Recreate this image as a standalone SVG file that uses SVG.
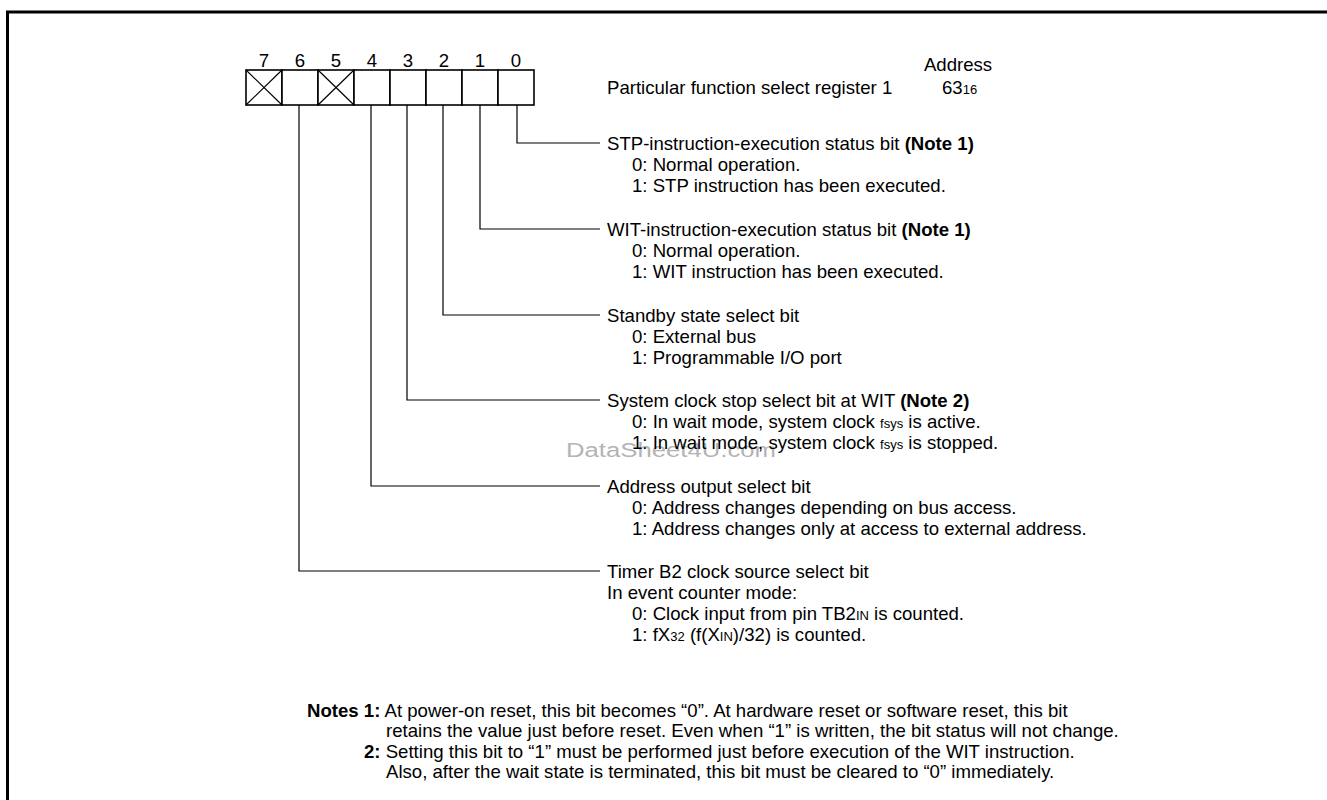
<svg xmlns="http://www.w3.org/2000/svg" width="1327" height="800" viewBox="0 0 1327 800">
<style>
text{font-family:"Liberation Sans",Arial,sans-serif;font-size:18.6px;fill:#000}
.b{font-weight:bold}
.s{font-size:13px}
.n{text-anchor:middle}
.ln{stroke:#000;stroke-width:1.2;fill:none}
.cell{stroke:#000;stroke-width:1.6;fill:#fff}
.wm{fill:#b4b4b4;font-size:20px}
</style>
<rect x="0" y="0" width="1327" height="800" fill="#fff"/>
<rect x="7.5" y="12" width="1340" height="820" fill="none" stroke="#000" stroke-width="3"/>
<g id="register">
<text class="n" x="264" y="67">7</text>
<text class="n" x="300" y="67">6</text>
<text class="n" x="336" y="67">5</text>
<text class="n" x="372" y="67">4</text>
<text class="n" x="408" y="67">3</text>
<text class="n" x="444" y="67">2</text>
<text class="n" x="480" y="67">1</text>
<text class="n" x="516" y="67">0</text>
<rect class="cell" x="246" y="70" width="36" height="35"/>
<rect class="cell" x="282" y="70" width="36" height="35"/>
<rect class="cell" x="318" y="70" width="36" height="35"/>
<rect class="cell" x="354" y="70" width="36" height="35"/>
<rect class="cell" x="390" y="70" width="36" height="35"/>
<rect class="cell" x="426" y="70" width="36" height="35"/>
<rect class="cell" x="462" y="70" width="36" height="35"/>
<rect class="cell" x="498" y="70" width="36" height="35"/>
<path class="ln" d="M246 70L282 105M282 70L246 105M318 70L354 105M354 70L318 105"/>
</g>
<g id="title">
<text x="607" y="94">Particular function select register 1</text>
<text class="n" x="958" y="71">Address</text>
<text x="942" y="94">63<tspan class="s">16</tspan></text>
</g>
<g id="connectors">
<path class="ln" d="M517 105V143H600"/>
<path class="ln" d="M480 105V229H600"/>
<path class="ln" d="M443 105V315H600"/>
<path class="ln" d="M407 105V400H600"/>
<path class="ln" d="M371 105V486H600"/>
<path class="ln" d="M299 105V571H600"/>
</g>
<text class="wm" x="566" y="457" textLength="210" lengthAdjust="spacingAndGlyphs">DataSheet4U.com</text>
<g id="bit0">
<text x="607" y="149.5">STP-instruction-execution status bit <tspan class="b">(Note 1)</tspan></text>
<text x="632" y="170.5">0: Normal operation.</text>
<text x="632" y="191.5">1: STP instruction has been executed.</text>
</g>
<g id="bit1">
<text x="607" y="235.5">WIT-instruction-execution status bit <tspan class="b">(Note 1)</tspan></text>
<text x="632" y="256.5">0: Normal operation.</text>
<text x="632" y="277.5">1: WIT instruction has been executed.</text>
</g>
<g id="bit2">
<text x="607" y="321.5">Standby state select bit</text>
<text x="632" y="342.5">0: External bus</text>
<text x="632" y="363.5">1: Programmable I/O port</text>
</g>
<g id="bit3">
<text x="607" y="406.5">System clock stop select bit at WIT <tspan class="b">(Note 2)</tspan></text>
<text x="632" y="427.5">0: In wait mode, system clock <tspan class="s">fsys</tspan> is active.</text>
<text x="632" y="448.5">1: In wait mode, system clock <tspan class="s">fsys</tspan> is stopped.</text>
</g>
<g id="bit4">
<text x="607" y="492.5">Address output select bit</text>
<text x="632" y="513.5">0: Address changes depending on bus access.</text>
<text x="632" y="534.5">1: Address changes only at access to external address.</text>
</g>
<g id="bit6">
<text x="607" y="577.5">Timer B2 clock source select bit</text>
<text x="607" y="598.5">In event counter mode:</text>
<text x="632" y="619.5">0: Clock input from pin TB2<tspan class="s">IN</tspan> is counted.</text>
<text x="632" y="640.5">1: fX<tspan class="s">32</tspan> (f(X<tspan class="s">IN</tspan>)/32) is counted.</text>
</g>
<g id="notes">
<text x="307" y="716.5"><tspan class="b">Notes 1:</tspan> At power-on reset, this bit becomes “0”. At hardware reset or software reset, this bit</text>
<text x="386" y="737">retains the value just before reset. Even when “1” is written, the bit status will not change.</text>
<text x="364" y="757.5"><tspan class="b">2:</tspan> Setting this bit to “1” must be performed just before execution of the WIT instruction.</text>
<text x="386" y="778">Also, after the wait state is terminated, this bit must be cleared to “0” immediately.</text>
</g>
</svg>
